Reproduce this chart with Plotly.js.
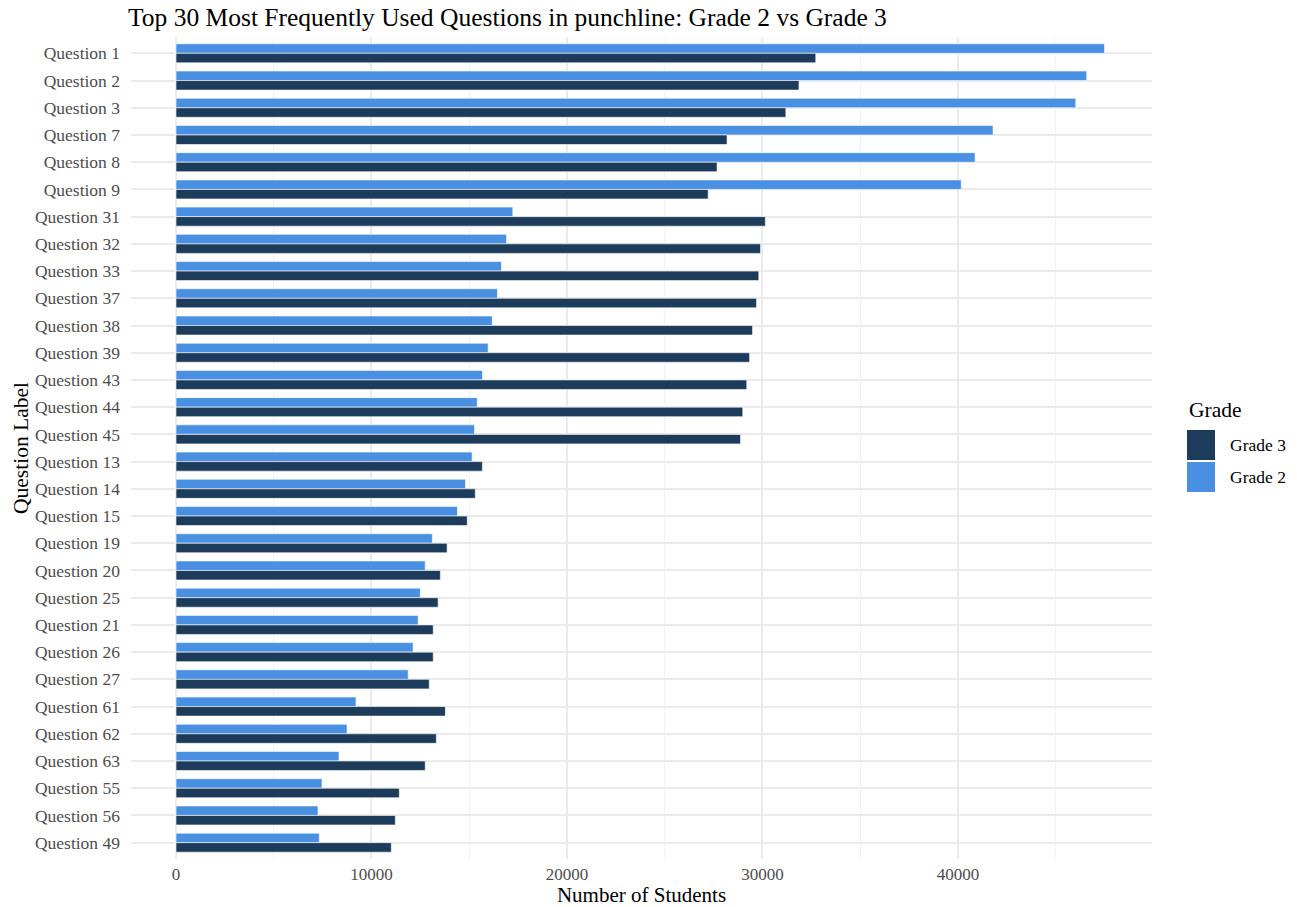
<!DOCTYPE html>
<html>
<head>
<meta charset="utf-8">
<script src="https://cdn.plot.ly/plotly-3.0.1.min.js"></script>
<style>html,body{margin:0;padding:0;background:#fff;}#chart{width:1297px;height:907px;}</style>
</head>
<body>
<div id="chart"></div>
<script>
const questions = ["Question 1","Question 2","Question 3","Question 7","Question 8","Question 9",
  "Question 31","Question 32","Question 33","Question 37","Question 38","Question 39",
  "Question 43","Question 44","Question 45","Question 13","Question 14","Question 15",
  "Question 19","Question 20","Question 25","Question 21","Question 26","Question 27",
  "Question 61","Question 62","Question 63","Question 55","Question 56","Question 49"];
const grade2 = [47500,46590,46030,41800,40880,40170,
  17230,16910,16650,16445,16180,15970,
  15680,15410,15270,15150,14810,14400,
  13115,12750,12500,12390,12130,11880,
  9210,8750,8340,7470,7265,7330];
const grade3 = [32730,31870,31200,28190,27680,27225,
  30150,29905,29815,29700,29495,29345,
  29200,28995,28880,15675,15310,14900,
  13870,13525,13410,13160,13160,12955,
  13780,13320,12750,11425,11220,11015];
const xTicks = [0,10000,20000,30000,40000];
const legendNames = ["Grade 3","Grade 2"];
const colors = {"Grade 2":"#4A90E2","Grade 3":"#1D3B5A"};

const serif = "Liberation Serif, Times New Roman, serif";
const traces = [
  {type:"bar", orientation:"h", name:"Grade 2", y:questions, x:grade2,
   marker:{color:colors["Grade 2"], line:{color:"#ffffff", width:0.6}}, hoverinfo:"x+y"},
  {type:"bar", orientation:"h", name:"Grade 3", y:questions, x:grade3,
   marker:{color:colors["Grade 3"], line:{color:"#ffffff", width:0.6}}, hoverinfo:"x+y"}
];

// custom ggplot-style legend (large key swatches)
const shapes = [];
const annotations = [{xref:"paper", yref:"paper", x:1.0343, y:0.5462, xanchor:"left", yanchor:"middle",
  text:"Grade", showarrow:false, font:{family:serif, size:21.5, color:"#000"}}];
legendNames.forEach((n, i) => {
  const top = 0.5219 - i*0.0389;
  shapes.push({type:"rect", xref:"paper", yref:"paper", x0:1.0343, x1:1.0617, y0:top-0.0365, y1:top,
    fillcolor:colors[n], line:{width:0}});
  annotations.push({xref:"paper", yref:"paper", x:1.0745, y:top-0.0183, xanchor:"left", yanchor:"middle",
    text:n, showarrow:false, font:{family:serif, size:17.5, color:"#000"}});
});

const layout = {
  width:1297, height:907,
  margin:{l:131, r:145, t:37, b:48},
  paper_bgcolor:"#ffffff", plot_bgcolor:"#ffffff",
  barmode:"group", bargap:0.3, bargroupgap:0,
  font:{family:serif, color:"#000"},
  showlegend:false,
  title:{text:"Top 30 Most Frequently Used Questions in punchline: Grade 2 vs Grade 3",
    font:{family:serif, size:25.5, color:"#000"}, x:0, xref:"paper", xanchor:"left", y:0.981, yref:"container", yanchor:"middle", pad:{l:-3}},
  xaxis:{range:[-2302, 49930], tickvals:xTicks, ticktext:xTicks.map(String),
    showgrid:true, gridcolor:"#EBEBEB", gridwidth:1.8, zeroline:false, showline:false,
    ticks:"", ticklabelstandoff:3,
    tickfont:{family:serif, size:17, color:"#4D4D4D"},
    minor:{dtick:5000, tick0:5000, showgrid:true, gridcolor:"#F2F2F2", gridwidth:1},
    title:{text:"Number of Students", font:{family:serif, size:21, color:"#000"}, standoff:3},
    automargin:false},
  yaxis:{type:"category", categoryorder:"array", categoryarray:questions,
    range:[29.6, -0.6], showgrid:true, gridcolor:"#EBEBEB", gridwidth:1.8, zeroline:false, showline:false,
    ticks:"", ticklabelstandoff:10,
    tickfont:{family:serif, size:17.5, color:"#4D4D4D"},
    title:{text:"Question Label", font:{family:serif, size:21.5, color:"#000"}, standoff:0},
    automargin:false},
  shapes:shapes,
  annotations:annotations
};
Plotly.newPlot("chart", traces, layout, {displayModeBar:false, responsive:false});
</script>
</body>
</html>
